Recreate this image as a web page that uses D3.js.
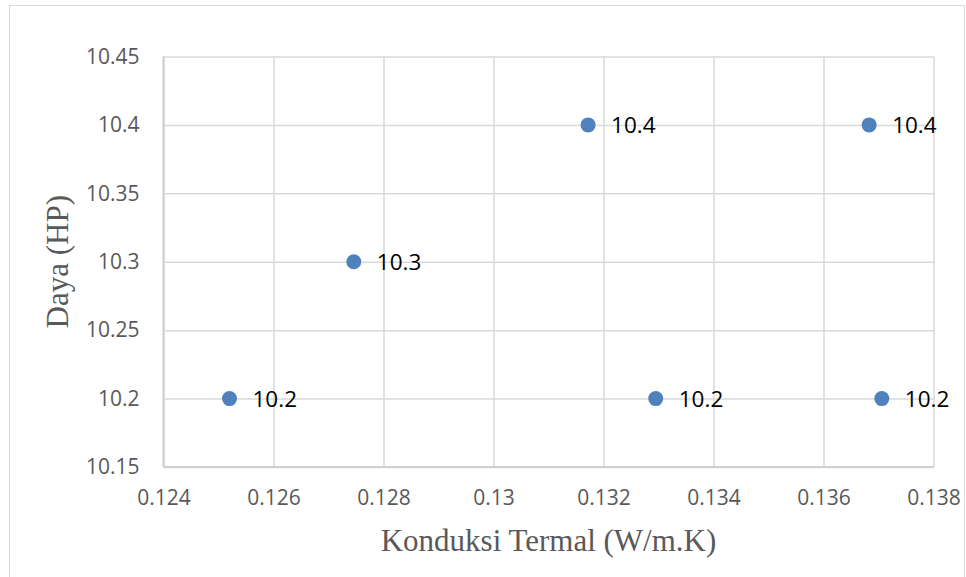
<!DOCTYPE html>
<html>
<head>
<meta charset="utf-8">
<script src="https://cdn.jsdelivr.net/npm/d3@7"></script>
<style>
  html, body { margin: 0; padding: 0; background: #fff; }
  svg { display: block; }
</style>
</head>
<body>
<svg id="chart" width="966" height="577"></svg>
<script>
// Thermal conductivity (W/m.K) vs. engine power (HP)
const konduksi = [0.12520, 0.12746, 0.13172, 0.13683, 0.13295, 0.13706];
const daya     = [10.2, 10.3, 10.4, 10.4, 10.2, 10.2];
const xTicks = [0.124, 0.126, 0.128, 0.13, 0.132, 0.134, 0.136, 0.138];
const yTicks = [10.15, 10.2, 10.25, 10.3, 10.35, 10.4, 10.45];
const xTitle = "Konduksi Termal (W/m.K)";
const yTitle = "Daya (HP)";

const plot = { left: 163.5, right: 933.5, top: 56.5, bottom: 467 };
const svg = d3.select("#chart");

// chart frame
svg.append("rect")
  .attr("x", 9.5).attr("y", 5.5)
  .attr("width", 955).attr("height", 580)
  .attr("fill", "#fff").attr("stroke", "#d9d9d9").attr("stroke-width", 1);

const x = d3.scaleLinear().domain([0.124, 0.138]).range([plot.left, plot.right]);
const y = d3.scaleLinear().domain([10.15, 10.45]).range([plot.bottom, plot.top]);

const gridColor = "#d9d9d9";
const tickFont = "'Open Sans', 'Liberation Sans', Arial, sans-serif";

// vertical gridlines + x tick labels
const xAxis = svg.append("g")
  .attr("transform", `translate(0,${plot.bottom})`)
  .call(d3.axisBottom(x).tickValues(xTicks)
    .tickSize(-(plot.bottom - plot.top)).tickPadding(23)
    .tickFormat(d => d3.format("")(+d.toFixed(3))));
xAxis.select(".domain").remove();
xAxis.selectAll(".tick line").attr("stroke", gridColor).attr("stroke-width", 1.5);
xAxis.selectAll(".tick text")
  .attr("fill", "#595959").style("font-family", tickFont).style("font-size", "21px");

// horizontal gridlines + y tick labels
const yAxis = svg.append("g")
  .attr("transform", `translate(${plot.left},0)`)
  .call(d3.axisLeft(y).tickValues(yTicks)
    .tickSize(-(plot.right - plot.left)).tickPadding(24)
    .tickFormat(d => d3.format("")(+d.toFixed(2))));
yAxis.select(".domain").remove();
yAxis.selectAll(".tick line").attr("stroke", gridColor).attr("stroke-width", 1.5);
yAxis.selectAll(".tick text")
  .attr("fill", "#595959").style("font-family", tickFont).style("font-size", "21px");

// axis lines
svg.append("line")
  .attr("x1", plot.left).attr("x2", plot.right)
  .attr("y1", plot.bottom).attr("y2", plot.bottom)
  .attr("stroke", "#d0d0d0").attr("stroke-width", 2);
svg.append("line")
  .attr("x1", plot.left).attr("x2", plot.left)
  .attr("y1", plot.top).attr("y2", plot.bottom)
  .attr("stroke", "#d0d0d0").attr("stroke-width", 2);

const points = konduksi.map((k, i) => ({ k, p: daya[i] }));

// markers
svg.append("g").selectAll("circle")
  .data(points).join("circle")
  .attr("cx", d => x(d.k)).attr("cy", d => y(d.p))
  .attr("r", 7.5).attr("fill", "#4f81bd");

// value labels
svg.append("g").selectAll("text")
  .data(points).join("text")
  .attr("x", d => x(d.k) + 23).attr("y", d => y(d.p))
  .attr("dy", "0.36em")
  .attr("fill", "#000")
  .style("font-family", tickFont).style("font-size", "22.5px")
  .text(d => d.p.toFixed(1));

// axis titles
const titleFont = "'Liberation Serif', 'Times New Roman', serif";
svg.append("text")
  .attr("x", (plot.left + plot.right) / 2).attr("y", 551)
  .attr("text-anchor", "middle")
  .attr("fill", "#595959")
  .style("font-family", titleFont).style("font-size", "31px")
  .text(xTitle);
svg.append("text")
  .attr("transform", `translate(68,${(plot.top + plot.bottom) / 2}) rotate(-90)`)
  .attr("text-anchor", "middle")
  .attr("fill", "#595959")
  .style("font-family", titleFont).style("font-size", "31px")
  .text(yTitle);
</script>
</body>
</html>
